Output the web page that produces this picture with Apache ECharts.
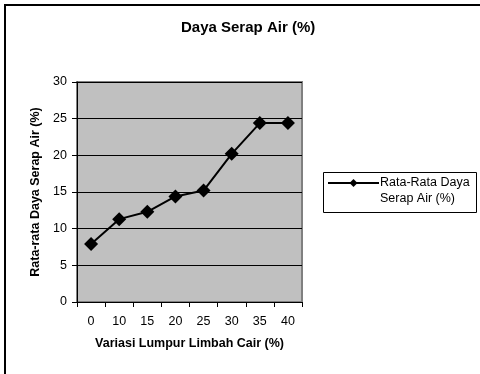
<!DOCTYPE html>
<html>
<head>
<meta charset="utf-8">
<script src="https://cdn.jsdelivr.net/npm/echarts@6/dist/echarts.min.js"></script>
<style>html,body{margin:0;padding:0;background:#fff}#c{width:480px;height:374px}</style>
</head>
<body>
<div id="c"></div>
<script>
const categories = ['0', '10', '15', '20', '25', '30', '35', '40'];
const values = [7.9, 11.3, 12.3, 14.4, 15.2, 20.2, 24.4, 24.4];
const yTicks = { min: 0, max: 30, interval: 5 };
const seriesName = 'Rata-Rata Daya\nSerap Air (%)';
const titleText = 'Daya Serap Air (%)';
const xName = 'Variasi Lumpur Limbah Cair (%)';
const yName = 'Rata-rata Daya Serap Air (%)';

const chart = echarts.init(document.getElementById('c'), null, { renderer: 'canvas' });
const font = '"Liberation Sans", Arial, sans-serif';
chart.setOption({
  animation: false,
  backgroundColor: '#ffffff',
  textStyle: { fontFamily: font },
  title: {
    text: titleText, left: 176, top: 15,
    textStyle: { fontFamily: font, fontSize: 15, fontWeight: 'bold', color: '#000' }
  },
  graphic: [
    { type: 'rect', shape: { x: 5, y: 5, width: 520, height: 420 }, style: { fill: null, stroke: '#000', lineWidth: 2 }, silent: true },
    { type: 'rect', shape: { x: 323.5, y: 172.5, width: 153, height: 40 }, style: { fill: '#fff', stroke: '#000', lineWidth: 1 }, silent: true, z: 0 }
  ],
  legend: {
    left: 327, top: 159, padding: 0,
    itemWidth: 51, itemHeight: 10, itemGap: 0,
    formatter: function (n) { return '\n' + n; },
    textStyle: { fontFamily: font, fontSize: 12.5, color: '#000', lineHeight: 16, padding: [0, 0, 0, -4] },
    data: [{ name: seriesName }],
    z: 5
  },
  grid: {
    left: 77, right: 178, top: 82, bottom: 72,
    show: true, backgroundColor: '#c0c0c0', borderColor: '#808080', borderWidth: 2
  },
  xAxis: {
    type: 'category', data: categories, boundaryGap: true,
    name: xName, nameLocation: 'middle', nameGap: 35,
    nameTextStyle: { fontFamily: font, fontSize: 12.5, fontWeight: 'bold', color: '#000' },
    axisLine: { lineStyle: { color: '#000', width: 1 } },
    axisTick: { show: true, length: 5, alignWithLabel: false, lineStyle: { color: '#000' } },
    axisLabel: { color: '#000', fontSize: 12.5, margin: 13, fontFamily: font },
    splitLine: { show: false }
  },
  yAxis: {
    type: 'value', min: yTicks.min, max: yTicks.max, interval: yTicks.interval,
    name: yName, nameLocation: 'middle', nameGap: 35,
    nameTextStyle: { fontFamily: font, fontSize: 12.5, fontWeight: 'bold', color: '#000' },
    axisLine: { show: true, lineStyle: { color: '#000', width: 1 } },
    axisTick: { show: true, length: 5, lineStyle: { color: '#000' } },
    axisLabel: { color: '#000', fontSize: 12.5, margin: 10, fontFamily: font },
    splitLine: { show: true, lineStyle: { color: '#000', width: 1 } }
  },
  series: [{
    name: seriesName, type: 'line', data: values,
    symbol: 'diamond', symbolSize: 14,
    itemStyle: { color: '#000' },
    lineStyle: { color: '#000', width: 2 }
  }]
});
</script>
</body>
</html>
